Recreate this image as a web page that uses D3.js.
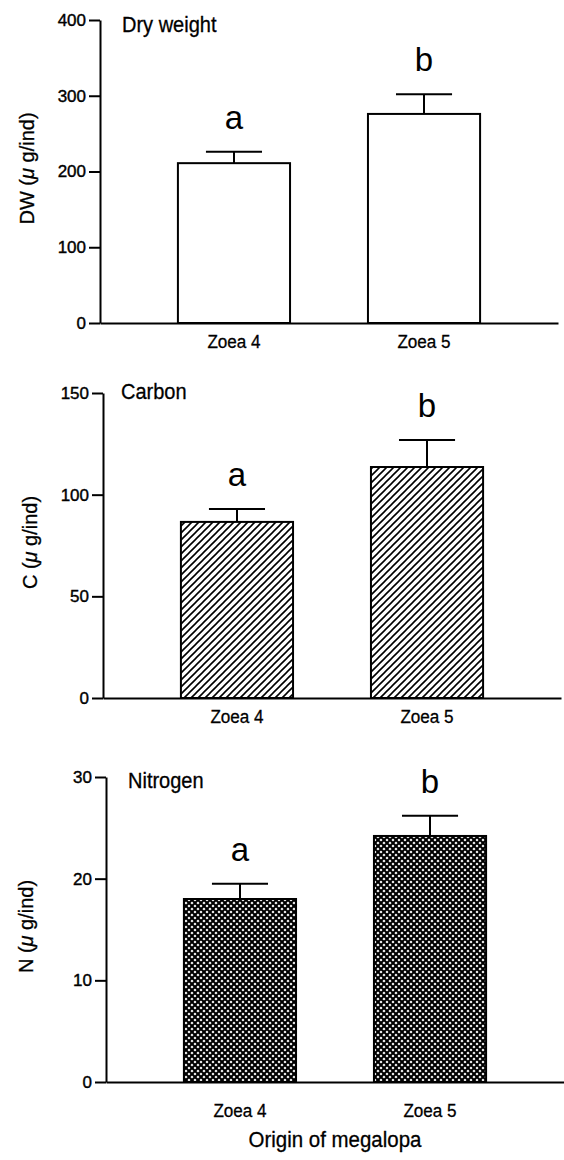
<!DOCTYPE html>
<html>
<head>
<meta charset="utf-8">
<script src="https://d3js.org/d3.v7.min.js"></script>
<style>
body { margin: 0; background: #fff; }
text { font-family: "Liberation Sans", Arial, sans-serif; fill: #000; }
</style>
</head>
<body>
<div id="chart"></div>
<script>

// data
var categories = ["Zoea 4", "Zoea 5"];
var letters = ["a", "b"];

var dryWeight = [211, 276];
var dryWeightErr = [15, 26];
var carbon = [86.6, 113.6];
var carbonErr = [6.4, 13.3];
var nitrogen = [18.0, 24.2];
var nitrogenErr = [1.5, 2.0];

var dwTicks = [0, 100, 200, 300, 400];
var cTicks = [0, 50, 100, 150];
var nTicks = [0, 10, 20, 30];

var svg = d3.select("#chart").append("svg")
    .attr("width", 564)
    .attr("height", 1160);

var defs = svg.append("defs");

// diagonal hatching for carbon
var hatch = defs.append("pattern")
    .attr("id", "hatch")
    .attr("patternUnits", "userSpaceOnUse")
    .attr("width", 7).attr("height", 7);
hatch.append("rect").attr("width", 7).attr("height", 7).attr("fill", "#fff");
hatch.append("path")
    .attr("d", "M-1,1 l2,-2 M0,7 l7,-7 M6,8 l2,-2")
    .attr("stroke", "#000").attr("stroke-width", 1.6);

// cross hatching for nitrogen
var cross = defs.append("pattern")
    .attr("id", "cross")
    .attr("patternUnits", "userSpaceOnUse")
    .attr("width", 6).attr("height", 6);
cross.append("rect").attr("width", 6).attr("height", 6).attr("fill", "#fff");
cross.append("path")
    .attr("d", "M-1,-1 L7,7 M-1,7 L7,-1")
    .attr("stroke", "#000").attr("stroke-width", 2.1);

barPanel({ x0: 100, top: 20, bottom: 323, max: 400, ticks: dwTicks,
  values: dryWeight, err: dryWeightErr, fill: "#fff",
  title: "Dry weight", titleDx: 22, titleDy: 12,
  yName: "DW", yLabelX: 34, catPad: 12 });

barPanel({ x0: 103, top: 393, bottom: 698, max: 150, ticks: cTicks,
  values: carbon, err: carbonErr, fill: "url(#hatch)",
  title: "Carbon", titleDx: 18, titleDy: 6,
  yName: "C", yLabelX: 37, catPad: 12 });

barPanel({ x0: 106, top: 777, bottom: 1082, max: 30, ticks: nTicks,
  values: nitrogen, err: nitrogenErr, fill: "url(#cross)",
  title: "Nitrogen", titleDx: 22, titleDy: 11,
  yName: "N", yLabelX: 33, catPad: 22 });

svg.append("text")
   .attr("transform", "translate(335,1147) scale(0.93,1)")
   .attr("text-anchor", "middle")
   .style("font-size", "22px")
   .attr("stroke", "#000").attr("stroke-width", 0.3)
   .text("Origin of megalopa");

function barPanel(p) {

var x = d3.scaleBand()
    .domain(categories)
    .range([p.x0, p.x0 + 458])
    .padding(0.41);

var y = d3.scaleLinear()
    .domain([0, p.max])
    .range([p.bottom, p.top]);

var g = svg.append("g");

// bars
g.selectAll(".bar")
   .data(p.values)
   .enter().append("rect")
   .attr("x", function(d, i) { return x(categories[i]); })
   .attr("y", function(d) { return y(d); })
   .attr("width", x.bandwidth())
   .attr("height", function(d) { return y(0) - y(d); })
   .attr("fill", p.fill)
   .attr("stroke", "#000")
   .attr("stroke-width", 2);

// error bars (upper only)
p.values.forEach(function(v, i) {
  var cx = x(categories[i]) + x.bandwidth() / 2;
  var hi = y(v + p.err[i]);
  g.append("line")
     .attr("x1", cx).attr("x2", cx)
     .attr("y1", y(v)).attr("y2", hi)
     .attr("stroke", "#000").attr("stroke-width", 2);
  g.append("line")
     .attr("x1", cx - x.bandwidth() / 4).attr("x2", cx + x.bandwidth() / 4)
     .attr("y1", hi).attr("y2", hi)
     .attr("stroke", "#000").attr("stroke-width", 2);
  g.append("text")
     .attr("x", cx)
     .attr("y", hi - 23)
     .attr("text-anchor", "middle")
     .style("font-size", "33px")
     .text(letters[i]);
});

// y axis
var ya = g.append("g")
   .attr("transform", "translate(" + p.x0 + ",0)")
   .call(d3.axisLeft(y).tickValues(p.ticks).tickSize(11).tickSizeOuter(0).tickPadding(3));
ya.selectAll("path, line").attr("stroke", "#000").attr("stroke-width", 2);
ya.selectAll("text")
   .style("font-family", "'Liberation Sans', Arial, sans-serif")
   .style("font-size", "17px")
   .attr("stroke", "#000").attr("stroke-width", 0.4);

// x axis
var xa = g.append("g")
   .attr("transform", "translate(0," + y(0) + ")")
   .call(d3.axisBottom(x).tickSize(0).tickSizeOuter(0).tickPadding(p.catPad));
xa.select(".domain").attr("stroke", "#000").attr("stroke-width", 2);
xa.selectAll("text")
   .attr("transform", "scale(0.9,1)")
   .style("font-family", "'Liberation Sans', Arial, sans-serif")
   .style("font-size", "19px")
   .attr("stroke", "#000").attr("stroke-width", 0.3);

// panel title
g.append("text")
   .attr("transform", "translate(" + (p.x0 + p.titleDx) + "," + (p.top + p.titleDy) + ") scale(0.91,1)")
   .style("font-size", "22px")
   .attr("stroke", "#000").attr("stroke-width", 0.3)
   .text(p.title);

// y label
var yl = g.append("text")
   .attr("transform", "translate(" + p.yLabelX + "," + ((p.top + p.bottom) / 2 - 3) + ") rotate(-90)")
   .attr("text-anchor", "middle")
   .style("font-size", "20px")
   .attr("stroke", "#000").attr("stroke-width", 0.3);
yl.append("tspan").text(p.yName + " (");
yl.append("tspan").style("font-style", "italic").text("\u03bc");
yl.append("tspan").text(" g/ind)");

}

</script>
</body>
</html>
